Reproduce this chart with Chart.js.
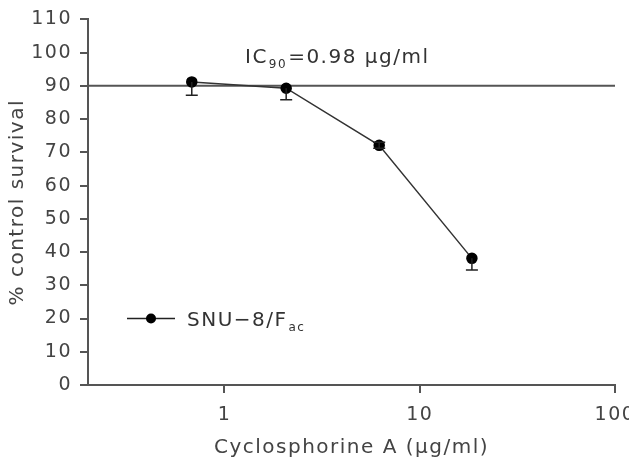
<!DOCTYPE html>
<html>
<head>
<meta charset="utf-8">
<script src="https://cdn.jsdelivr.net/npm/chart.js@4/dist/chart.umd.min.js"></script>
<style>
html,body{margin:0;padding:0;background:#fff;overflow:hidden;}
#wrap{width:660px;height:472px;}
</style>
</head>
<body>
<div id="wrap"><canvas id="c" width="660" height="472"></canvas></div>
<script>
// ---- data ----
const concentrations = [0.68, 2.07, 6.2, 18.5];      // µg/ml
const survival = [91.2, 89.3, 72.1, 38.1];           // % control survival
const errLow = [87.2, 85.8, 71.2, 34.6];             // lower error bar ends
const errHigh = [null, null, 73.0, null];            // upper error bar ends
const ic90Line = [90, 90];
const ic90X = [0.2, 100];
const xTicks = [1, 10, 100];
const yTicks = [0, 10, 20, 30, 40, 50, 60, 70, 80, 90, 100, 110];

const FONT = 'DejaVu Sans';
const GREY = '#444';
const SPACING = '1.5px';

const spacing = {
  id: 'spacing',
  beforeDraw(chart) { chart.ctx.letterSpacing = SPACING; }
};

const errorBars = {
  id: 'errorBars',
  afterDatasetsDraw(chart) {
    const {ctx, scales: {x, y}} = chart;
    ctx.save();
    ctx.strokeStyle = '#222';
    ctx.lineWidth = 1.5;
    concentrations.forEach((c, i) => {
      const px = x.getPixelForValue(c);
      const py = y.getPixelForValue(survival[i]);
      [errLow[i], errHigh[i]].forEach(v => {
        if (v == null) return;
        const pe = y.getPixelForValue(v);
        ctx.beginPath();
        ctx.moveTo(px, py); ctx.lineTo(px, pe);
        ctx.moveTo(px - 6, pe); ctx.lineTo(px + 6, pe);
        ctx.stroke();
      });
    });
    ctx.restore();
  }
};

function subText(ctx, x, y, main, sub, after, size) {
  ctx.font = size + 'px "' + FONT + '"';
  ctx.fillText(main, x, y);
  x += ctx.measureText(main).width;
  ctx.font = Math.round(size * 0.62) + 'px "' + FONT + '"';
  ctx.fillText(sub, x + 1, y + 5);
  x += ctx.measureText(sub).width + 2;
  if (after) {
    ctx.font = size + 'px "' + FONT + '"';
    ctx.fillText(after, x, y);
  }
}

const annotations = {
  id: 'annotations',
  afterDraw(chart) {
    const {ctx, scales: {x, y}} = chart;
    ctx.save();
    ctx.letterSpacing = SPACING;
    ctx.fillStyle = '#333';
    ctx.textBaseline = 'alphabetic';
    // IC90 label
    subText(ctx, 245, 63, 'IC', '90', '=0.98 \u03bcg/ml', 20);
    // legend
    const ly = y.getPixelForValue(20);
    ctx.strokeStyle = '#222';
    ctx.lineWidth = 1.5;
    ctx.beginPath(); ctx.moveTo(127, ly); ctx.lineTo(175, ly); ctx.stroke();
    ctx.fillStyle = '#000';
    ctx.beginPath(); ctx.arc(151, ly, 5, 0, Math.PI * 2); ctx.fill();
    ctx.fillStyle = '#333';
    subText(ctx, 187, ly + 7, 'SNU\u22128/F', 'ac', null, 20);
    ctx.restore();
  }
};

new Chart(document.getElementById('c'), {
  type: 'scatter',
  data: {
    datasets: [
      {
        label: 'IC90',
        data: ic90X.map((v, i) => ({x: v, y: ic90Line[i]})),
        showLine: true,
        borderColor: '#555',
        borderWidth: 2,
        pointRadius: 0,
        order: 2
      },
      {
        label: 'SNU-8/Fac',
        data: concentrations.map((v, i) => ({x: v, y: survival[i]})),
        showLine: true,
        borderColor: '#333',
        borderWidth: 1.5,
        pointRadius: 5,
        pointBackgroundColor: '#000',
        pointBorderColor: '#000',
        order: 1
      }
    ]
  },
  options: {
    responsive: false,
    animation: false,
    devicePixelRatio: 1,
    layout: {padding: {left: 0, top: 12, right: 45, bottom: 0}},
    plugins: {legend: {display: false}, tooltip: {enabled: false}},
    scales: {
      x: {
        type: 'logarithmic',
        min: 0.2, max: 100,
        afterBuildTicks(s) { s.ticks = xTicks.map(v => ({value: v})); },
        afterFit(s) { s.height = 87; },
        border: {display: true, color: '#555', width: 2},
        grid: {drawOnChartArea: false, drawTicks: true, tickLength: 8, color: '#555', lineWidth: 2},
        ticks: {
          color: GREY, padding: 11, maxRotation: 0, autoSkip: false,
          font: {family: FONT, size: 19},
          callback: v => String(v)
        },
        title: {
          display: true, text: 'Cyclosphorine A (\u03bcg/ml)', color: GREY,
          font: {family: FONT, size: 20}, padding: {top: 0, bottom: 12}
        }
      },
      y: {
        min: 0, max: 110,
        afterBuildTicks(s) { s.ticks = yTicks.map(v => ({value: v})); },
        afterFit(s) { s.width = 88; },
        border: {display: true, color: '#555', width: 2},
        grid: {drawOnChartArea: false, drawTicks: true, tickLength: 8, color: '#555', lineWidth: 2},
        ticks: {color: GREY, padding: 8, font: {family: FONT, size: 19}},
        title: {
          display: true, text: '% control survival', color: GREY,
          font: {family: FONT, size: 20}, padding: {top: 6, bottom: 0}
        }
      }
    }
  },
  plugins: [spacing, errorBars, annotations]
});
</script>
</body>
</html>
